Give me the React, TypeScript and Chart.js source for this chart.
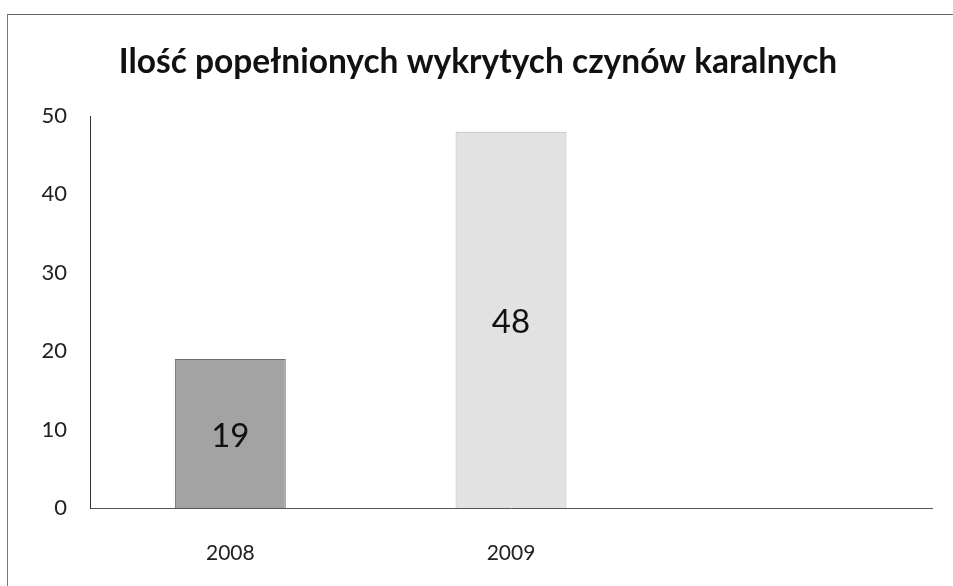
import React, { useEffect, useRef } from "react";
import { Chart, registerables } from "chart.js";

Chart.register(...registerables);

const TITLE = "Ilość popełnionych wykrytych czynów karalnych";
const categories = ["2008", "2009", ""];
const values = [19, 48, null];
const barColors = ["#a3a3a3", "#e2e2e2", "#e2e2e2"];
const barBorders = ["#6e6e6e", "#b5b5b5", "#b5b5b5"];
const yTicks = [0, 10, 20, 30, 40, 50];

const valueLabels = {
  id: "valueLabels",
  afterDatasetsDraw(chart: any) {
    const ctx = chart.ctx;
    const meta = chart.getDatasetMeta(0);
    ctx.save();
    ctx.font = "33px Lato, 'Open Sans', sans-serif";
    ctx.fillStyle = "#111";
    ctx.textAlign = "center";
    ctx.textBaseline = "middle";
    meta.data.forEach((el: any, i: number) => {
      const v = chart.data.datasets[0].data[i];
      if (v == null) return;
      const { x, y, base } = el.getProps(["x", "y", "base"], true);
      ctx.fillText(String(v), x, (y + base) / 2 + 3);
    });
    // title, centred on the whole frame
    ctx.font = "bold 33.5px Lato, 'Open Sans', sans-serif";
    ctx.fillStyle = "#111";
    ctx.fillText(TITLE, 478, 62);
    ctx.restore();
  },
};

export default function App() {
  const ref = useRef<HTMLCanvasElement>(null);
  useEffect(() => {
    document.body.style.margin = "0";
    const chart = new Chart(ref.current!, {
      type: "bar",
      data: {
        labels: categories,
        datasets: [
          {
            data: values as any,
            backgroundColor: barColors,
            borderColor: barBorders,
            borderWidth: 1,
            categoryPercentage: 1,
            barPercentage: 0.395,
          },
        ],
      },
      options: {
        animation: false,
        responsive: false,
        layout: { padding: { left: 40, right: 21, top: 116, bottom: 0 } },
        plugins: {
          legend: { display: false },
          tooltip: { enabled: false },
          title: { display: false },
        },
        scales: {
          x: {
            afterFit: (s: any) => {
              s.height = 78;
            },
            grid: { display: false, drawTicks: false },
            border: { display: true, color: "#555", width: 1 },
            ticks: {
              color: "#222",
              padding: 33,
              font: { family: "Lato, 'Open Sans', sans-serif", size: 21 },
            },
          },
          y: {
            min: 0,
            max: 50,
            afterFit: (s: any) => {
              s.width = 50;
            },
            afterBuildTicks: (s: any) => {
              s.ticks = yTicks.map((v) => ({ value: v }));
            },
            grid: { display: false, drawTicks: false },
            border: { display: true, color: "#333", width: 1 },
            ticks: {
              color: "#222",
              padding: 23,
              font: { family: "Lato, 'Open Sans', sans-serif", size: 22 },
            },
          },
        },
      },
      plugins: [valueLabels],
    });
    return () => chart.destroy();
  }, []);
  return (
    <div style={{ position: "absolute", left: 0, top: 0, width: 953, height: 586, background: "#fff" }}>
      <div style={{ position: "absolute", left: 7, top: 14, width: 946, height: 572, borderLeft: "1px solid #777", borderTop: "1px solid #666" }} />
      <canvas ref={ref} width={953} height={586} style={{ position: "absolute", left: 0, top: 0 }} />
    </div>
  );
}
